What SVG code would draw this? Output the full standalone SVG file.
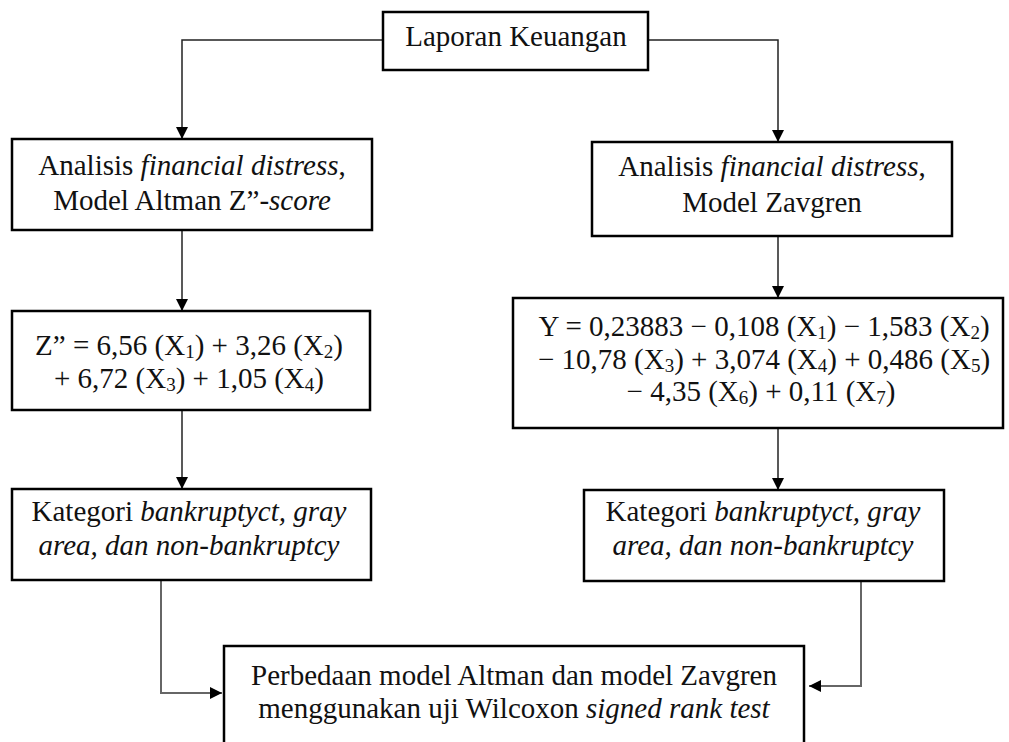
<svg xmlns="http://www.w3.org/2000/svg" width="1009" height="742" viewBox="0 0 1009 742">
<style>
.box{fill:#fff;stroke:#000;stroke-width:2.5}
.t{font-family:"Liberation Serif","Times New Roman",serif;font-size:29px;fill:#111;text-anchor:middle}
.i{font-style:italic}
.s{font-size:19px}
.c{fill:none;stroke:#222;stroke-width:1.5}
.c2{fill:none;stroke:#666;stroke-width:2}
</style>
<defs>
<marker id="arr" viewBox="0 0 12 12" refX="12" refY="6" markerWidth="12" markerHeight="12" markerUnits="userSpaceOnUse" orient="auto">
<path d="M0,0 L12,6 L0,12 z" fill="#000"/>
</marker>
</defs>
<rect width="1009" height="742" fill="#fff"/>
<g id="connectors">
<path class="c" d="M383,40 H182 V139" marker-end="url(#arr)"/>
<path class="c" d="M648,40 H778 V142" marker-end="url(#arr)"/>
<path class="c" d="M182,230 V311" marker-end="url(#arr)"/>
<path class="c" d="M182,410 V489" marker-end="url(#arr)"/>
<path class="c" d="M778,236 V298" marker-end="url(#arr)"/>
<path class="c" d="M778,428 V490" marker-end="url(#arr)"/>
<path class="c2" d="M161,580 V693 H222" marker-end="url(#arr)"/>
<path class="c2" d="M861,581 V686 H809" marker-end="url(#arr)"/>
</g>
<g id="laporan">
<rect class="box" x="383" y="12" width="265" height="58"/>
<text class="t" x="516" y="46">Laporan Keuangan</text>
</g>
<g id="altman-analisis">
<rect class="box" x="12" y="139" width="360" height="91"/>
<text class="t" x="192" y="175">Analisis <tspan class="i">financial distress</tspan>,</text>
<text class="t" x="192" y="210">Model Altman Z”-<tspan class="i">score</tspan></text>
</g>
<g id="zavgren-analisis">
<rect class="box" x="592" y="142" width="360" height="94"/>
<text class="t" x="772" y="176">Analisis <tspan class="i">financial distress</tspan>,</text>
<text class="t" x="772" y="212">Model Zavgren</text>
</g>
<g id="altman-rumus">
<rect class="box" x="12" y="311" width="358" height="99"/>
<text class="t" x="189" y="355">Z” = 6,56 (X<tspan class="s" dy="3">1</tspan><tspan dy="-3">) + 3,26 (X</tspan><tspan class="s" dy="3">2</tspan><tspan dy="-3">)</tspan></text>
<text class="t" x="189" y="388">+ 6,72 (X<tspan class="s" dy="3">3</tspan><tspan dy="-3">) + 1,05 (X</tspan><tspan class="s" dy="3">4</tspan><tspan dy="-3">)</tspan></text>
</g>
<g id="zavgren-rumus">
<rect class="box" x="513" y="298" width="490" height="130"/>
<text class="t" x="764" y="336">Y = 0,23883 − 0,108 (X<tspan class="s" dy="3">1</tspan><tspan dy="-3">) − 1,583 (X</tspan><tspan class="s" dy="3">2</tspan><tspan dy="-3">)</tspan></text>
<text class="t" x="764" y="369">− 10,78 (X<tspan class="s" dy="3">3</tspan><tspan dy="-3">) + 3,074 (X</tspan><tspan class="s" dy="3">4</tspan><tspan dy="-3">) + 0,486 (X</tspan><tspan class="s" dy="3">5</tspan><tspan dy="-3">)</tspan></text>
<text class="t" x="761" y="401">− 4,35 (X<tspan class="s" dy="3">6</tspan><tspan dy="-3">) + 0,11 (X</tspan><tspan class="s" dy="3">7</tspan><tspan dy="-3">)</tspan></text>
</g>
<g id="altman-kategori">
<rect class="box" x="12" y="489" width="359" height="91"/>
<text class="t" x="189" y="521">Kategori <tspan class="i">bankruptyct, gray</tspan></text>
<text class="t i" x="189" y="555">area, dan non-bankruptcy</text>
</g>
<g id="zavgren-kategori">
<rect class="box" x="584" y="490" width="360" height="91"/>
<text class="t" x="763" y="521">Kategori <tspan class="i">bankruptyct, gray</tspan></text>
<text class="t i" x="763" y="555">area, dan non-bankruptcy</text>
</g>
<g id="perbedaan">
<rect class="box" x="224" y="646" width="580" height="110"/>
<text class="t" x="514" y="685">Perbedaan model Altman dan model Zavgren</text>
<text class="t" x="514" y="718">menggunakan uji Wilcoxon <tspan class="i">signed rank test</tspan></text>
</g>
</svg>
